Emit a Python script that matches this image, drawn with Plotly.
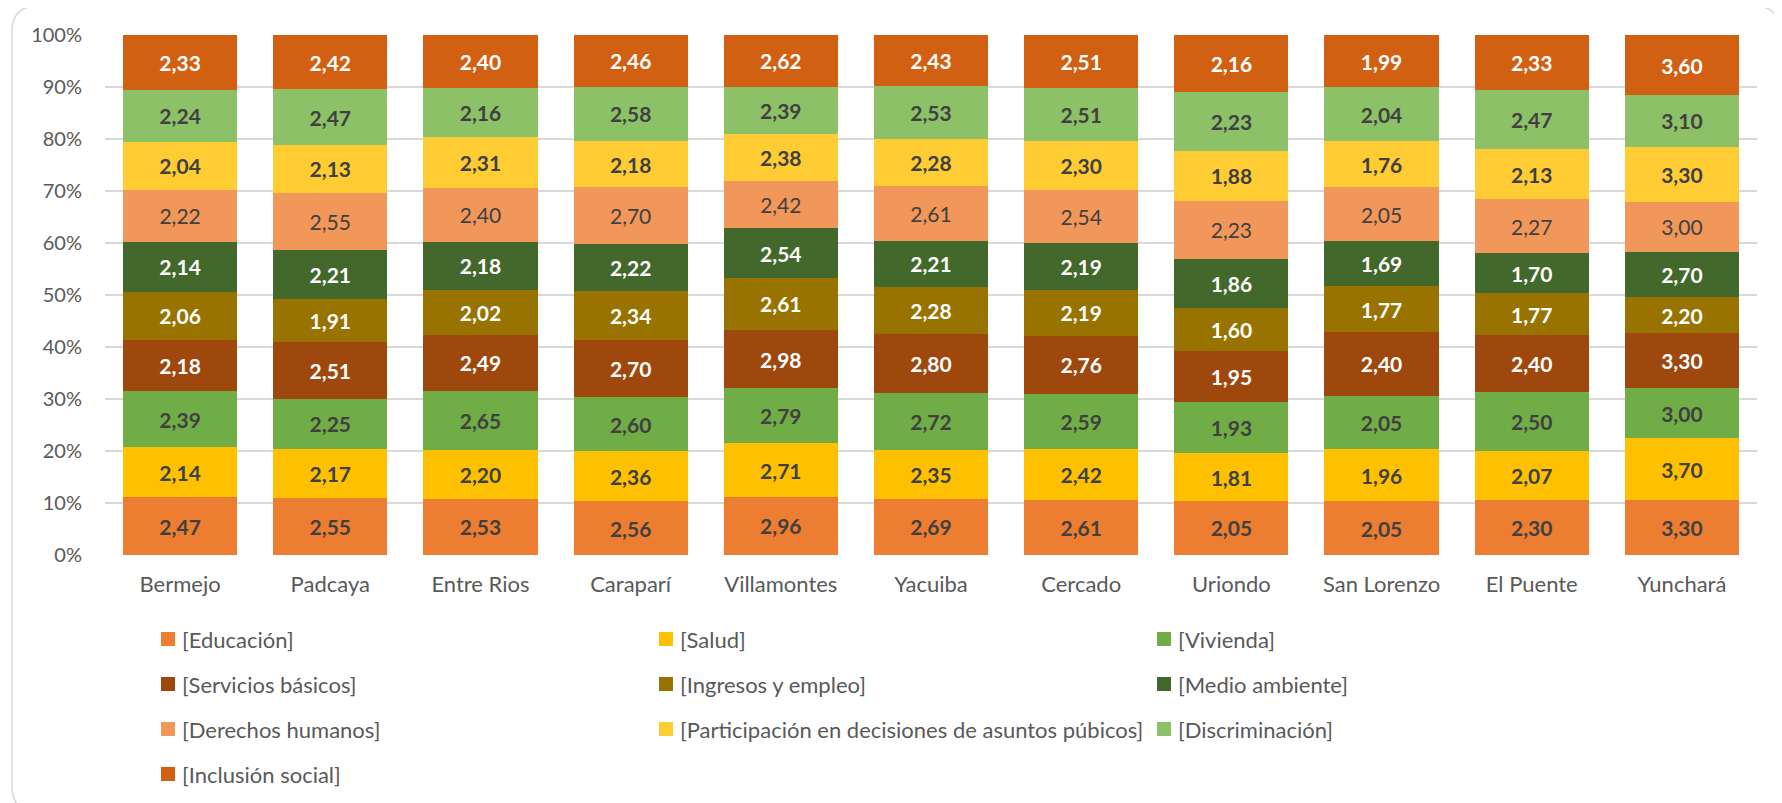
import plotly.graph_objects as go

municipios = ["Bermejo", "Padcaya", "Entre Rios", "Caraparí", "Villamontes", "Yacuiba",
              "Cercado", "Uriondo", "San Lorenzo", "El Puente", "Yunchará"]

series = ["[Educación]", "[Salud]", "[Vivienda]", "[Servicios básicos]", "[Ingresos y empleo]",
          "[Medio ambiente]", "[Derechos humanos]",
          "[Participación en decisiones de asuntos púbicos]", "[Discriminación]", "[Inclusión social]"]

educacion = [2.47, 2.55, 2.53, 2.56, 2.96, 2.69, 2.61, 2.05, 2.05, 2.30, 3.30]
salud = [2.14, 2.17, 2.20, 2.36, 2.71, 2.35, 2.42, 1.81, 1.96, 2.07, 3.70]
vivienda = [2.39, 2.25, 2.65, 2.60, 2.79, 2.72, 2.59, 1.93, 2.05, 2.50, 3.00]
servicios = [2.18, 2.51, 2.49, 2.70, 2.98, 2.80, 2.76, 1.95, 2.40, 2.40, 3.30]
ingresos = [2.06, 1.91, 2.02, 2.34, 2.61, 2.28, 2.19, 1.60, 1.77, 1.77, 2.20]
medio_ambiente = [2.14, 2.21, 2.18, 2.22, 2.54, 2.21, 2.19, 1.86, 1.69, 1.70, 2.70]
derechos = [2.22, 2.55, 2.40, 2.70, 2.42, 2.61, 2.54, 2.23, 2.05, 2.27, 3.00]
participacion = [2.04, 2.13, 2.31, 2.18, 2.38, 2.28, 2.30, 1.88, 1.76, 2.13, 3.30]
discriminacion = [2.24, 2.47, 2.16, 2.58, 2.39, 2.53, 2.51, 2.23, 2.04, 2.47, 3.10]
inclusion = [2.33, 2.42, 2.40, 2.46, 2.62, 2.43, 2.51, 2.16, 1.99, 2.33, 3.60]

valores = [educacion, salud, vivienda, servicios, ingresos, medio_ambiente,
           derechos, participacion, discriminacion, inclusion]

colores = ["#ED7D31", "#FFC000", "#70AD47", "#9E480E", "#997300",
           "#43682B", "#F1975A", "#FFCD33", "#8CC168", "#D26012"]
texto_color = ["#404040", "#404040", "#404040", "white", "white",
               "white", "#404040", "#404040", "#404040", "white"]
texto_peso = ["bold"] * 6 + ["normal"] + ["bold"] * 3

FONT = "Lato"
OFF = 8  # margen del body de la pagina
W, H = 1782 - OFF, 803 - OFF
# plot area en coordenadas de la ventana: x 105..1757, y 35..555
L, R, T, B = 105 - OFF, 25, 35 - OFF, 248
pw, ph = W - L - R, H - T - B


def px(x):
    return (x - OFF - L) / pw


def py(y):
    return (H - B - (y - OFF)) / ph


fig = go.Figure()
for name, vals, col, tc, tw in zip(series, valores, colores, texto_color, texto_peso):
    fig.add_trace(go.Bar(
        x=municipios,
        y=vals,
        name=name,
        marker=dict(color=col, line=dict(width=0)),
        text=[f"{v:.2f}".replace(".", ",") for v in vals],
        textposition="inside",
        insidetextanchor="middle",
        textangle=0,
        constraintext="none",
        textfont=dict(family=FONT, size=21, color=tc, weight=tw),
        showlegend=False,
        hoverinfo="skip",
    ))

# leyenda manual en 3 columnas
shapes = []
annotations = []
for i, (name, col) in enumerate(zip(series, colores)):
    fila, colm = divmod(i, 3)
    x0 = 161 + colm * 498
    yc = 639 + fila * 45
    shapes.append(dict(type="rect", xref="paper", yref="paper",
                       x0=px(x0), x1=px(x0 + 14), y0=py(yc + 7), y1=py(yc - 7),
                       fillcolor=col, line=dict(width=0)))
    annotations.append(dict(x=px(x0 + 19), y=py(yc), xref="paper", yref="paper",
                            text=name, showarrow=False, xanchor="left", yanchor="middle",
                            font=dict(family=FONT, size=22, color="#595959")))

# marco redondeado (el borde inferior queda fuera de la imagen)
x0, x1, y0, y1, r = 12, 1780, 6, 812, 26
path = (f"M {px(x0 + r)},{py(y0)} L {px(x1 - r)},{py(y0)} "
        f"Q {px(x1)},{py(y0)} {px(x1)},{py(y0 + r)} L {px(x1)},{py(y1 - r)} "
        f"Q {px(x1)},{py(y1)} {px(x1 - r)},{py(y1)} L {px(x0 + r)},{py(y1)} "
        f"Q {px(x0)},{py(y1)} {px(x0)},{py(y1 - r)} L {px(x0)},{py(y0 + r)} "
        f"Q {px(x0)},{py(y0)} {px(x0 + r)},{py(y0)} Z")
shapes.append(dict(type="path", xref="paper", yref="paper", path=path,
                   line=dict(color="#D9D9D9", width=1.5), layer="below"))

fig.update_layout(
    width=W, height=H,
    barmode="stack",
    barnorm="percent",
    bargap=0.24,
    margin=dict(l=L, r=R, t=T, b=B),
    plot_bgcolor="white",
    paper_bgcolor="white",
    font=dict(family=FONT, size=19, color="#595959"),
    shapes=shapes,
    annotations=annotations,
    uniformtext=dict(mode=False),
)
fig.update_yaxes(range=[0, 100], dtick=10, ticksuffix="%", showgrid=True,
                 gridcolor="#D9D9D9", gridwidth=1.5, zeroline=False, showline=False,
                 ticklabelstandoff=22, tickfont=dict(size=20, color="#595959"))
fig.update_xaxes(showline=False, showgrid=False, ticklabelstandoff=14,
                 tickfont=dict(size=22, color="#595959"))

fig.write_html("out.html")
